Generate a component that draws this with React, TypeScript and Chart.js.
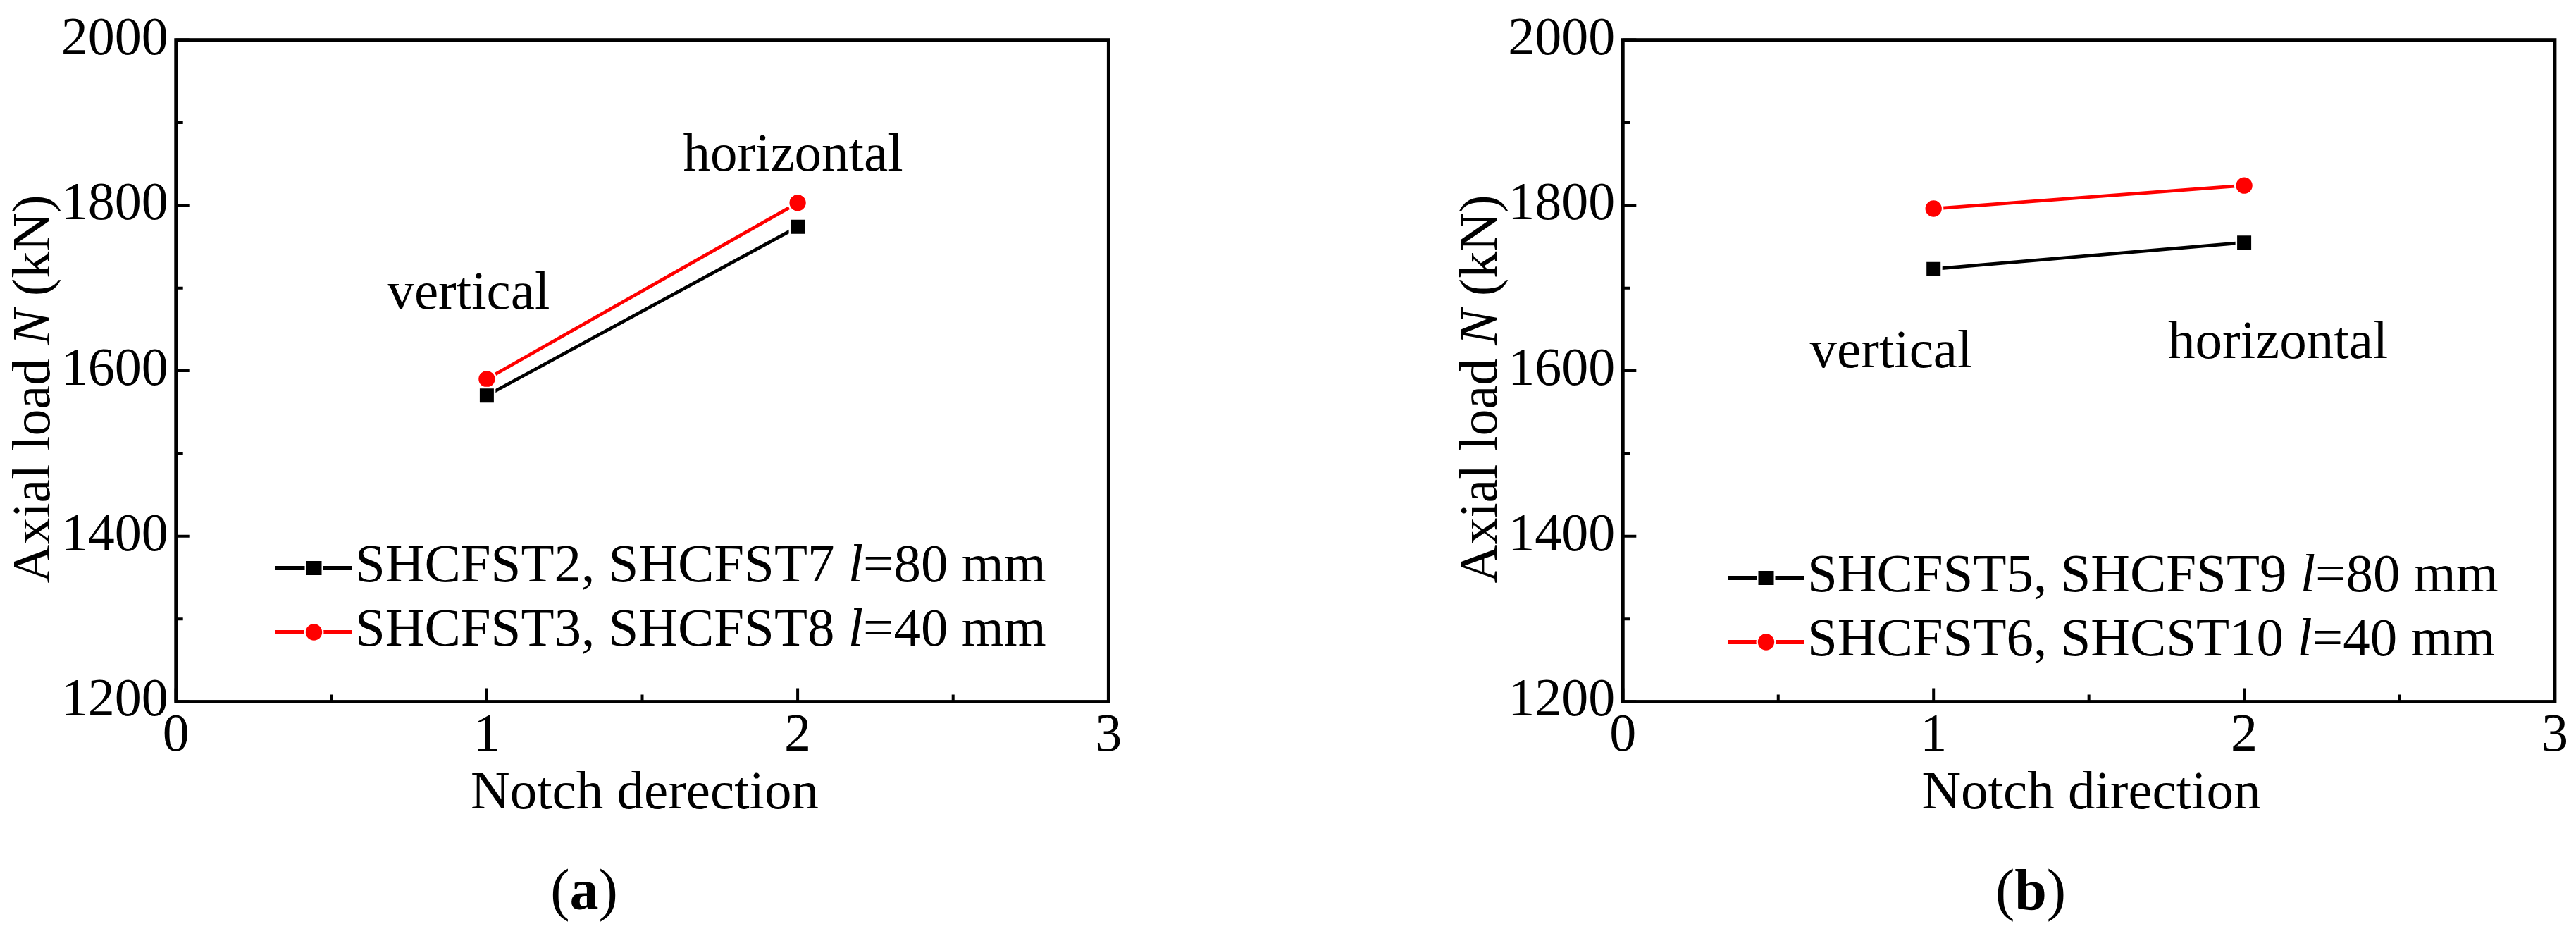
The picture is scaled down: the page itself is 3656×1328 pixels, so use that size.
import React, { useEffect, useRef } from 'react';
import { Chart, registerables } from 'chart.js';

Chart.register(...registerables);

const FONT = '"Liberation Serif", "Times New Roman", Times, serif';

// ---- data ----
const notchPositions = [1, 2];
const aSeriesL80 = [1570, 1774];
const aSeriesL40 = [1590, 1803];
const bSeriesL80 = [1723, 1755];
const bSeriesL40 = [1796, 1824];

const yTickValues = [1200, 1400, 1600, 1800, 2000];
const yMinorValues = [1300, 1500, 1700, 1900];
const xTickValues = [0, 1, 2, 3];
const xMinorValues = [0.5, 1.5, 2.5];

const aLegendMain = ['SHCFST2, SHCFST7 ', 'SHCFST3, SHCFST8 '];
const bLegendMain = ['SHCFST5, SHCFST9 ', 'SHCFST6, SHCST10 '];
const legendTail = ['=80 mm', '=40 mm'];

const aNoteText = ['vertical', 'horizontal'];
const aNoteX = [0.941, 1.985];
const aNoteY = [1675, 1842];
const bNoteText = ['vertical', 'horizontal'];
const bNoteX = [0.8635, 2.109];
const bNoteY = [1604, 1615];

const seriesColors = ['#000000', '#ff0000'];
const seriesMarkers = ['rect', 'circle'];

// ---- layout ----
const W = 3656;
const H = 1328;
const CW = 1828;
const AREA_TOP = 52.3;
const AREA_BOTTOM = 995.5;

type Part = { t: string; s?: 'i' | 'b' };

function fontOf(size: number, s?: 'i' | 'b') {
  return `${s === 'i' ? 'italic ' : ''}${s === 'b' ? 'bold ' : ''}${size}px ${FONT}`;
}

function drawParts(ctx: CanvasRenderingContext2D, parts: Part[], x: number, y: number, size: number, align: 'left' | 'center') {
  const widths = parts.map((p) => {
    ctx.font = fontOf(size, p.s);
    return ctx.measureText(p.t).width;
  });
  const total = widths.reduce((a, b) => a + b, 0);
  let cx = align === 'center' ? x - total / 2 : x;
  ctx.textAlign = 'left';
  ctx.textBaseline = 'alphabetic';
  parts.forEach((p, i) => {
    ctx.font = fontOf(size, p.s);
    ctx.fillText(p.t, cx, y);
    cx += widths[i];
  });
}

type PanelCfg = {
  offset: number;
  areaLeft: number;
  areaRight: number;
  series: number[][];
  legendMain: string[];
  legend: { x0: number; x1: number; textX: number; rows: number[] };
  xTitle: string;
  xTitleX: number;
  yTitleX: number;
  caption: string;
  captionX: number;
  noteText: string[];
  noteX: number[];
  noteY: number[];
};

const panels: PanelCfg[] = [
  {
    offset: 0,
    areaLeft: 249.7,
    areaRight: 1573.3,
    series: [aSeriesL80, aSeriesL40],
    legendMain: aLegendMain,
    legend: { x0: 391, x1: 500, textX: 504, rows: [806, 897] },
    xTitle: 'Notch derection',
    xTitleX: 915,
    yTitleX: 70,
    caption: 'a',
    captionX: 829,
    noteText: aNoteText,
    noteX: aNoteX,
    noteY: aNoteY,
  },
  {
    offset: CW,
    areaLeft: 2303.3 - CW,
    areaRight: 3626 - CW,
    series: [bSeriesL80, bSeriesL40],
    legendMain: bLegendMain,
    legend: { x0: 2452 - CW, x1: 2561 - CW, textX: 2565 - CW, rows: [820, 911] },
    xTitle: 'Notch direction',
    xTitleX: 2968 - CW,
    yTitleX: 2123.6 - CW,
    caption: 'b',
    captionX: 2882 - CW,
    noteText: bNoteText,
    noteX: bNoteX,
    noteY: bNoteY,
  },
];

function drawMarker(ctx: CanvasRenderingContext2D, kind: string, x: number, y: number, color: string) {
  ctx.save();
  if (kind === 'rect') {
    ctx.fillStyle = '#ffffff';
    ctx.fillRect(x - 13, y - 12.5, 26, 25);
    ctx.fillStyle = color;
    ctx.fillRect(x - 11, y - 10, 22, 20);
  } else {
    ctx.fillStyle = '#ffffff';
    ctx.beginPath();
    ctx.arc(x, y, 14, 0, Math.PI * 2);
    ctx.fill();
    ctx.fillStyle = color;
    ctx.beginPath();
    ctx.arc(x, y, 11.7, 0, Math.PI * 2);
    ctx.fill();
  }
  ctx.restore();
}

function makePlugin(p: PanelCfg) {
  return {
    id: 'decor',
    afterDraw(chart: any) {
      const ctx: CanvasRenderingContext2D = chart.ctx;
      const xs = chart.scales.x;
      const ys = chart.scales.y;
      const { left, right, top, bottom } = chart.chartArea;
      ctx.save();
      // ticks (inward)
      ctx.strokeStyle = '#000';
      ctx.lineWidth = 4;
      ctx.lineCap = 'butt';
      ctx.beginPath();
      yTickValues.forEach((v) => {
        const y = ys.getPixelForValue(v);
        ctx.moveTo(left, y);
        ctx.lineTo(left + 19, y);
      });
      yMinorValues.forEach((v) => {
        const y = ys.getPixelForValue(v);
        ctx.moveTo(left, y);
        ctx.lineTo(left + 10, y);
      });
      xTickValues.forEach((v) => {
        const x = xs.getPixelForValue(v);
        ctx.moveTo(x, bottom);
        ctx.lineTo(x, bottom - 19);
      });
      xMinorValues.forEach((v) => {
        const x = xs.getPixelForValue(v);
        ctx.moveTo(x, bottom);
        ctx.lineTo(x, bottom - 10);
      });
      ctx.stroke();
      // frame
      ctx.lineWidth = 4.8;
      ctx.lineJoin = 'miter';
      ctx.strokeRect(left, top, right - left, bottom - top);

      ctx.fillStyle = '#000';
      // annotations
      p.noteText.forEach((t, i) => {
        drawParts(ctx, [{ t }], xs.getPixelForValue(p.noteX[i]), ys.getPixelForValue(p.noteY[i]), 77, 'center');
      });

      // legend
      p.legendMain.forEach((label, i) => {
        const y = p.legend.rows[i];
        ctx.strokeStyle = seriesColors[i];
        ctx.lineWidth = 6;
        ctx.beginPath();
        ctx.moveTo(p.legend.x0, y);
        ctx.lineTo(p.legend.x1, y);
        ctx.stroke();
        drawMarker(ctx, seriesMarkers[i], (p.legend.x0 + p.legend.x1) / 2, y, seriesColors[i]);
        ctx.fillStyle = '#000';
        drawParts(ctx, [{ t: label }, { t: 'l', s: 'i' }, { t: legendTail[i] }], p.legend.textX, y + 19, 77, 'left');
      });

      // x title
      drawParts(ctx, [{ t: p.xTitle }], p.xTitleX, 1147, 77, 'center');

      // y title
      ctx.save();
      ctx.translate(p.yTitleX, 552);
      ctx.rotate(-Math.PI / 2);
      drawParts(ctx, [{ t: 'Axial load ' }, { t: 'N', s: 'i' }, { t: ' (kN)' }], 0, 0, 76, 'center');
      ctx.restore();

      // caption
      drawParts(ctx, [{ t: '(' }, { t: p.caption, s: 'b' }, { t: ')' }], p.captionX, 1290, 82, 'center');
      ctx.restore();
    },
  };
}

function PanelChart({ cfg }: { cfg: PanelCfg }) {
  const ref = useRef<HTMLCanvasElement | null>(null);
  useEffect(() => {
    if (!ref.current) return;
    const chart = new Chart(ref.current, {
      type: 'line',
      data: {
        datasets: cfg.series.map((vals, si) => ({
          label: cfg.legendMain[si] + 'l' + legendTail[si],
          data: notchPositions.map((x, i) => ({ x, y: vals[i] })),
          borderColor: seriesColors[si],
          backgroundColor: seriesColors[si],
          borderWidth: 4.8,
          pointStyle: seriesMarkers[si] as any,
          pointRadius: si === 0 ? 15.9 : 12.9,
          pointBorderWidth: 2.5,
          pointBorderColor: '#ffffff',
          pointBackgroundColor: seriesColors[si],
          tension: 0,
          fill: false,
        })),
      },
      options: {
        animation: false,
        responsive: false,
        devicePixelRatio: 1,
        events: [],
        layout: {
          padding: { top: AREA_TOP, right: CW - cfg.areaRight, bottom: 0, left: 0 },
        },
        plugins: {
          legend: { display: false },
          tooltip: { enabled: false },
          title: { display: false },
        },
        scales: {
          x: {
            type: 'linear',
            min: 0,
            max: 3,
            grid: { display: false, drawTicks: false },
            border: { display: false },
            afterBuildTicks: (s: any) => {
              s.ticks = xTickValues.map((v) => ({ value: v }));
            },
            afterFit: (s: any) => {
              s.height = H - AREA_BOTTOM;
            },
            ticks: {
              padding: 4,
              autoSkip: false,
              maxRotation: 0,
              color: '#000',
              font: { family: FONT, size: 76 },
              callback: (v: any) => String(v),
            },
          },
          y: {
            type: 'linear',
            min: 1200,
            max: 2000,
            grid: { display: false, drawTicks: false },
            border: { display: false },
            afterBuildTicks: (s: any) => {
              s.ticks = yTickValues.map((v) => ({ value: v }));
            },
            afterFit: (s: any) => {
              s.width = cfg.areaLeft;
            },
            ticks: {
              padding: 11,
              autoSkip: false,
              color: '#000',
              font: { family: FONT, size: 76 },
              callback: (v: any) => String(v),
            },
          },
        },
      },
      plugins: [makePlugin(cfg)],
    });
    return () => chart.destroy();
  }, [cfg]);
  return (
    <canvas
      ref={ref}
      width={CW}
      height={H}
      style={{ position: 'absolute', left: cfg.offset, top: 0, width: CW, height: H }}
    />
  );
}

export default function App() {
  return (
    <div
      style={{
        position: 'fixed',
        left: 0,
        top: 0,
        width: W,
        height: H,
        background: '#ffffff',
        overflow: 'hidden',
      }}
    >
      {panels.map((p, i) => (
        <PanelChart key={i} cfg={p} />
      ))}
    </div>
  );
}
